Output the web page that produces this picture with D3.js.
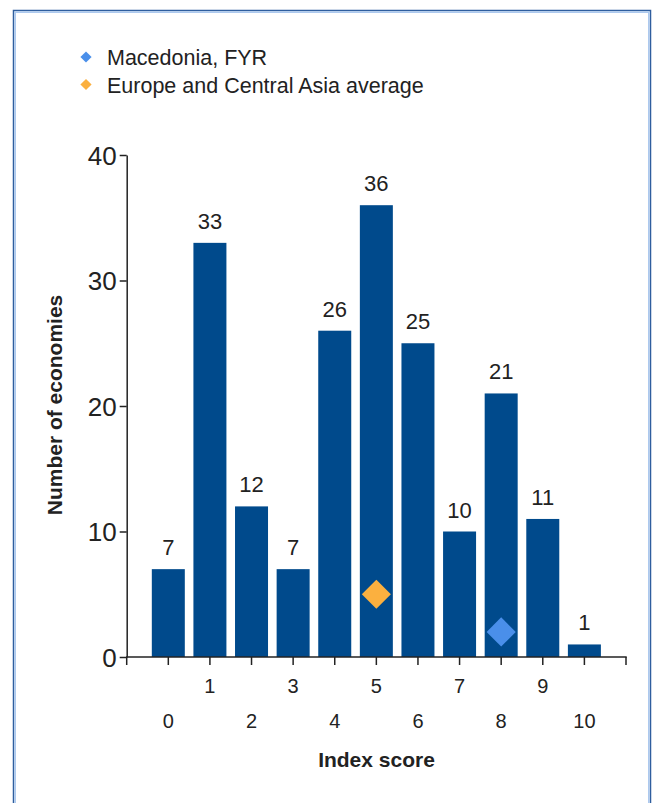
<!DOCTYPE html>
<html>
<head>
<meta charset="utf-8">
<script src="https://cdn.jsdelivr.net/npm/d3@7"></script>
<style>
  body { margin: 0; background: #fff; }
  text { font-family: "Liberation Sans", Arial, sans-serif; fill: #222; }
</style>
</head>
<body>
<div id="chart"></div>
<script>
(function () {

  // data
  var scores = ['0', '1', '2', '3', '4', '5', '6', '7', '8', '9', '10']
  var economies = [7, 33, 12, 7, 26, 36, 25, 10, 21, 11, 1]
  var yTicks = [0, 10, 20, 30, 40]

  var markerNames = ['Macedonia, FYR', 'Europe and Central Asia average']
  var markerScores = ['8', '5']
  var markerValues = [2, 5]
  var markerColors = ['#4a8fea', '#fbb03f']

  var width = 652,
      height = 803

  var svg = d3.select("#chart")
      .append("svg")
      .attr("width", width)
      .attr("height", height)

  // frame
  svg.append("rect")
    .attr("x", 13.5).attr("y", 10.5)
    .attr("width", 637).attr("height", 810)
    .attr("fill", "none")
    .attr("stroke", "#2f5e9e")
    .attr("stroke-width", 1.5)
  svg.append("rect")
    .attr("x", 15.2).attr("y", 12.2)
    .attr("width", 633.6).attr("height", 810)
    .attr("fill", "none")
    .attr("stroke", "#a9c7ee")
    .attr("stroke-width", 1.5)

  var xPositionScale = d3.scalePoint()
    .domain(scores)
    .range([126.7, 626])
    .padding(1)

  var yPositionScale = d3.scaleLinear()
    .domain([0, 40])
    .range([657, 155])

  var barWidth = 33

  // bars
  svg.selectAll(".bar")
    .data(scores)
    .enter().append("rect")
    .attr("class", "bar")
    .attr("x", function(d) { return xPositionScale(d) - barWidth / 2 })
    .attr("y", function(d, i) { return yPositionScale(economies[i]) })
    .attr("width", barWidth)
    .attr("height", function(d, i) { return yPositionScale(0) - yPositionScale(economies[i]) })
    .attr("fill", "#004a8c")

  // value labels
  svg.selectAll(".value")
    .data(scores)
    .enter().append("text")
    .attr("class", "value")
    .attr("x", function(d) { return xPositionScale(d) })
    .attr("y", function(d, i) { return yPositionScale(economies[i]) - 14 })
    .attr("text-anchor", "middle")
    .attr("font-size", 22)
    .attr("fill", "#333")
    .text(function(d, i) { return economies[i] })

  // markers
  svg.selectAll(".marker")
    .data(markerNames)
    .enter().append("path")
    .attr("class", "marker")
    .attr("d", d3.symbol().type(d3.symbolDiamond2).size(540))
    .attr("transform", function(d, i) {
      return "translate(" + xPositionScale(markerScores[i]) + "," + yPositionScale(markerValues[i]) + ")"
    })
    .attr("fill", function(d, i) { return markerColors[i] })

  // y axis
  var yAxis = d3.axisLeft(yPositionScale)
    .tickValues(yTicks)
    .tickSize(7)
    .tickPadding(3)
    .tickSizeOuter(0)
  var yg = svg.append("g")
    .attr("class", "axis y-axis")
    .attr("transform", "translate(126.7,0)")
    .call(yAxis)
  yg.selectAll("text")
    .attr("font-size", 26)
    .attr("font-family", null)
    .attr("fill", "#333")
    .attr("dy", "0.36em")
  yg.selectAll("line, path").attr("stroke", "#222").attr("stroke-width", 1.5)

  // x axis: ticks at bar centres and both ends
  var xg = svg.append("g")
    .attr("class", "axis x-axis")
  xg.append("line")
    .attr("x1", 126).attr("x2", 626.7)
    .attr("y1", 657).attr("y2", 657)
    .attr("stroke", "#222").attr("stroke-width", 1.5)
  var tickXs = [126.7].concat(scores.map(function(d) { return xPositionScale(d) })).concat([626])
  xg.selectAll(".tick-mark")
    .data(tickXs)
    .enter().append("line")
    .attr("class", "tick-mark")
    .attr("x1", function(d) { return d }).attr("x2", function(d) { return d })
    .attr("y1", 657).attr("y2", 665)
    .attr("stroke", "#222").attr("stroke-width", 1.5)
  xg.selectAll(".tick-label")
    .data(scores)
    .enter().append("text")
    .attr("class", "tick-label")
    .attr("x", function(d) { return xPositionScale(d) })
    .attr("y", function(d, i) { return i % 2 === 1 ? 693 : 728 })
    .attr("text-anchor", "middle")
    .attr("font-size", 20)
    .text(function(d) { return d })

  // axis titles
  svg.append("text")
    .attr("x", 376.5)
    .attr("y", 767)
    .attr("text-anchor", "middle")
    .attr("font-size", 21)
    .attr("font-weight", "bold")
    .attr("fill", "#111")
    .text("Index score")

  svg.append("text")
    .attr("transform", "translate(61.5,405) rotate(-90)")
    .attr("text-anchor", "middle")
    .attr("font-size", 21)
    .attr("font-weight", "bold")
    .attr("fill", "#111")
    .text("Number of economies")

  // legend
  var legend = svg.selectAll(".legend")
    .data(markerNames)
    .enter().append("g")
    .attr("class", "legend")
    .attr("transform", function(d, i) { return "translate(0," + (65 + i * 27.5) + ")" })
  legend.append("path")
    .attr("d", d3.symbol().type(d3.symbolDiamond2).size(80))
    .attr("transform", "translate(86,-8)")
    .attr("fill", function(d, i) { return markerColors[i] })
  legend.append("text")
    .attr("x", 107)
    .attr("y", 0)
    .attr("font-size", 21.5)
    .text(function(d) { return d })

})()
</script>
</body>
</html>
